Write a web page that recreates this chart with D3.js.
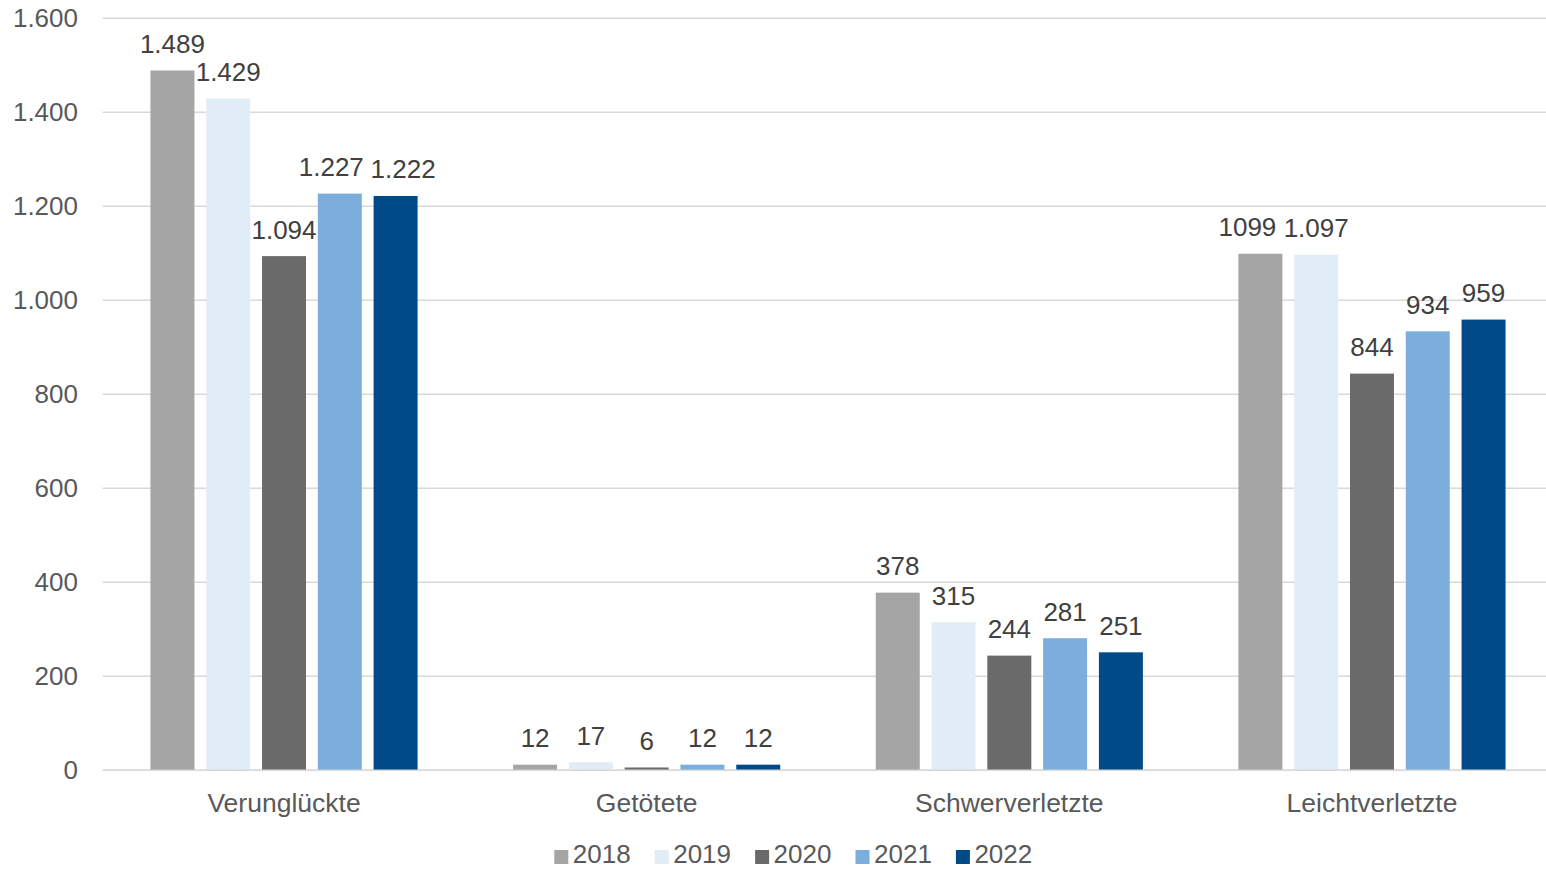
<!DOCTYPE html>
<html>
<head>
<meta charset="utf-8">
<script src="https://cdn.jsdelivr.net/npm/d3@7"></script>
<style>
  body { margin: 0; background: #fff; }
  svg { display: block; font-family: "Liberation Sans", Arial, sans-serif; }
</style>
</head>
<body>
<svg id="chart" width="1546" height="869"></svg>
<script>
const categories = ["Verunglückte", "Getötete", "Schwerverletzte", "Leichtverletzte"];
const years = ["2018", "2019", "2020", "2021", "2022"];
const values = {
    "2018": [1489, 12, 378, 1099],
    "2019": [1429, 17, 315, 1097],
    "2020": [1094, 6, 244, 844],
    "2021": [1227, 12, 281, 934],
    "2022": [1222, 12, 251, 959]
};
const labels = {
    "2018": ["1.489", "12", "378", "1099"],
    "2019": ["1.429", "17", "315", "1.097"],
    "2020": ["1.094", "6", "244", "844"],
    "2021": ["1.227", "12", "281", "934"],
    "2022": ["1.222", "12", "251", "959"]
};
const yTicks = [0, 200, 400, 600, 800, 1000, 1200, 1400, 1600];
const yTickLabels = ["0", "200", "400", "600", "800", "1.000", "1.200", "1.400", "1.600"];
const colors = ["#A5A5A5", "#E2ECF7", "#6A6A6A", "#7BAEDD", "#004B87"];

const svg = d3.select("#chart"),
    plotLeft = 102.7,
    plotRight = 1553.3,
    plotTop = 18.3,
    plotBottom = 770.3;

// sideways nudges of crowded data labels (as placed in the original)
const labelShift = {
    "Verunglückte|2021": -8.5,
    "Verunglückte|2022": 7.5,
    "Leichtverletzte|2018": -13
};

const x0 = d3.scaleBand().domain(categories).range([plotLeft, plotRight]).paddingInner(0).paddingOuter(0);
const x1 = d3.scaleBand().domain(years).range([0, x0.bandwidth()])
    .paddingInner(0.2115).paddingOuter(0.856);
const y = d3.scaleLinear().domain([0, 1600]).range([plotBottom, plotTop]);
const color = d3.scaleOrdinal().domain(years).range(colors);

// gridlines
svg.append("g")
    .selectAll("line")
    .data(yTicks)
    .join("line")
    .attr("x1", plotLeft)
    .attr("x2", plotRight)
    .attr("y1", d => y(d))
    .attr("y2", d => y(d))
    .attr("stroke", "#D9D9D9")
    .attr("stroke-width", 1.5);

// y labels
svg.append("g")
    .selectAll("text")
    .data(yTicks)
    .join("text")
    .attr("x", 78)
    .attr("y", d => y(d))
    .attr("dy", "0.35em")
    .attr("text-anchor", "end")
    .attr("fill", "#595959")
    .style("font-size", "26px")
    .text((d, i) => yTickLabels[i]);

// bars
const rows = (c, ci) => years.map(yr => ({ cat: c, year: yr, value: values[yr][ci], label: labels[yr][ci] }));

const groups = svg.append("g")
    .selectAll("g")
    .data(categories)
    .join("g")
    .attr("transform", d => `translate(${x0(d)},0)`);

groups.selectAll("rect")
    .data(rows)
    .join("rect")
    .attr("x", d => x1(d.year))
    .attr("width", x1.bandwidth())
    .attr("y", d => y(d.value))
    .attr("height", d => y(0) - y(d.value))
    .attr("fill", d => color(d.year));

groups.selectAll("text")
    .data(rows)
    .join("text")
    .attr("x", d => x1(d.year) + x1.bandwidth() / 2 + (labelShift[d.cat + "|" + d.year] || 0))
    .attr("y", d => y(d.value) - 17.5)
    .attr("text-anchor", "middle")
    .attr("fill", "#404040")
    .style("font-size", "26px")
    .text(d => d.label);

// baseline
svg.append("line")
    .attr("x1", plotLeft)
    .attr("x2", plotRight)
    .attr("y1", y(0))
    .attr("y2", y(0))
    .attr("stroke", "#D9D9D9")
    .attr("stroke-width", 1.5);

// category labels
svg.append("g")
    .selectAll("text")
    .data(categories)
    .join("text")
    .attr("x", d => x0(d) + x0.bandwidth() / 2)
    .attr("y", 812)
    .attr("text-anchor", "middle")
    .attr("fill", "#595959")
    .style("font-size", "26.5px")
    .text(d => d);

// legend
const legend = svg.append("g")
    .selectAll("g")
    .data(years)
    .join("g")
    .attr("transform", (d, i) => `translate(${554.3 + i * 100.4},0)`);

legend.append("rect")
    .attr("x", 0)
    .attr("y", 850)
    .attr("width", 14)
    .attr("height", 14)
    .attr("fill", d => color(d));

legend.append("text")
    .attr("x", 18.5)
    .attr("y", 863)
    .attr("fill", "#595959")
    .style("font-size", "26px")
    .text(d => d);
</script>
</body>
</html>
